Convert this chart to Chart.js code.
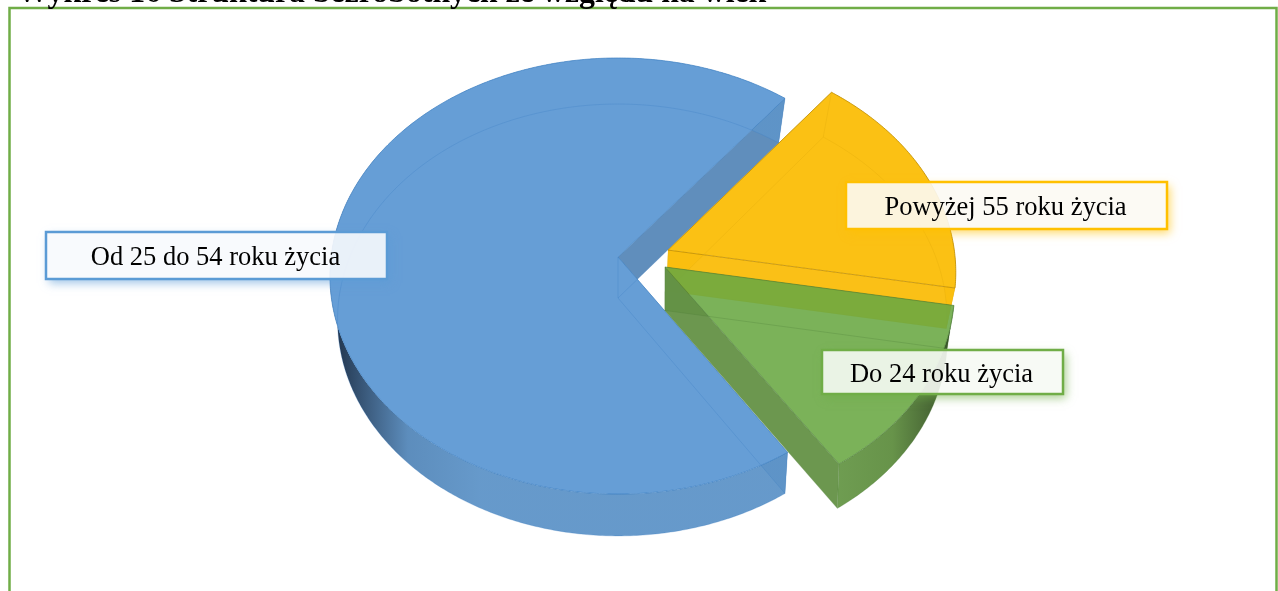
<!DOCTYPE html>
<html lang="pl">
<head>
<meta charset="utf-8">
<title>Wykres 16</title>
<script src="https://cdn.jsdelivr.net/npm/chart.js@4/dist/chart.umd.min.js"></script>
<style>
  html, body { margin: 0; padding: 0; background: #fff; overflow: hidden; }
  canvas { display: block; }
</style>
</head>
<body>
<canvas id="pieChart" width="1278" height="591"></canvas>
<script>
// data (share of the pie, %)
const chartTitle = 'Wykres 16 Struktura bezrobotnych ze względu na wiek';
const ageLabels = ['Do 24 roku życia', 'Od 25 do 54 roku życia', 'Powyżej 55 roku życia'];
const ageValues = [13, 69.9, 17.1];

// look of each slice, same order as the labels
const faceColors = ['rgba(105,167,66,.88)', 'rgba(85,148,210,.9)', 'rgba(251,191,12,.97)'];
const wallColors = ['rgba(100,145,70,.95)', 'rgba(68,122,176,.85)', 'rgba(250,190,15,.97)'];
const edgeColors = ['rgba(70,120,50,', 'rgba(50,120,190,', 'rgba(190,140,0,'];
const hiddenEdge = ['.25)', '.25)', '.14)'];
const shownEdge = ['.6)', '.6)', '.8)'];
const wallShade = [
  { from: 835, to: 950, stops: ['rgba(108,155,78,.98)', 'rgba(100,145,70,.98)', 'rgba(55,80,40,.98)'] },
  { from: 336, to: 480, stops: ['rgba(30,50,75,.98)', 'rgba(84,135,185,.95)', 'rgba(94,148,200,.95)'] },
  null
];
// where the apex of each slice ends up, in pie radii from the middle (x right, y away from viewer)
const apexShift = [[.163, -.046], [0, 0], [.175, .032]];
const bottomShift = [[.167, -.058], [0, 0], [.175, .032]];
const drawOrder = [1, 2, 0];
const labelBoxes = [[822, 350, 241, 44], [46, 232, 341, 47], [846, 182, 321, 47]];
const labelBorders = ['#70ad47', '#5b9bd5', '#ffc000'];
const labelFills = ['rgba(246,249,244,.9)', 'rgba(247,249,253,.9)', 'rgba(252,250,243,.9)'];

// fitted perspective of the top face and the bottom face of the pie
const top3d = { x: 618, y: 257, rx: 287, ry: 216.4, s: .0872 };
const bot3d = { x: 618, y: 298, rx: 279, ry: 213.7, s: .1018 };

function project(u, v, p) {
  const w = 1 + p.s * v;
  return [p.x + p.rx * u / w, p.y - p.ry * v / w];
}

// points of the rim of one slice, canvas angles from the arc element
function rimPoints(el, shift, p) {
  const pts = [];
  const n = Math.ceil((el.endAngle - el.startAngle) / 0.01);
  for (let i = 0; i <= n; i++) {
    const a = el.startAngle + (el.endAngle - el.startAngle) * i / n;
    pts.push(project(shift[0] + Math.cos(a), shift[1] - Math.sin(a), p));
  }
  return pts;
}

function tracePoints(ctx, pts) {
  pts.forEach((pt, i) => i ? ctx.lineTo(pt[0], pt[1]) : ctx.moveTo(pt[0], pt[1]));
}

function drawSlice(ctx, el, i) {
  const shift = apexShift[i];
  const topApex = project(shift[0], shift[1], top3d);
  const botApex = project(bottomShift[i][0], bottomShift[i][1], bot3d);
  const topRim = rimPoints(el, shift, top3d);
  const botRim = rimPoints(el, bottomShift[i], bot3d);
  const topFace = [topApex, ...topRim];
  const botFace = [botApex, ...botRim];

  // walls, only the part that sticks out of the top face
  ctx.save();
  ctx.beginPath();
  ctx.rect(0, 0, 1278, 591);
  tracePoints(ctx, topFace);
  ctx.closePath();
  ctx.clip('evenodd');

  ctx.fillStyle = wallColors[i];
  [[topRim[0], botRim[0]], [topRim[topRim.length - 1], botRim[botRim.length - 1]]].forEach(pair => {
    ctx.beginPath();
    tracePoints(ctx, [topApex, pair[0], pair[1], botApex]);
    ctx.closePath();
    ctx.fill();
  });

  let outerFill = wallColors[i];
  if (wallShade[i]) {
    const g = ctx.createLinearGradient(wallShade[i].from, 0, wallShade[i].to, 0);
    wallShade[i].stops.forEach((c, k) => g.addColorStop(k / (wallShade[i].stops.length - 1), c));
    outerFill = g;
  }
  ctx.fillStyle = outerFill;
  ctx.beginPath();
  tracePoints(ctx, [...topRim, ...botRim.slice().reverse()]);
  ctx.closePath();
  ctx.fill();
  ctx.restore();

  // top face
  ctx.fillStyle = faceColors[i];
  ctx.beginPath();
  tracePoints(ctx, topFace);
  ctx.closePath();
  ctx.fill();

  // hidden edges show faintly through the slice
  ctx.lineWidth = 1;
  ctx.strokeStyle = edgeColors[i] + hiddenEdge[i];
  ctx.beginPath();
  tracePoints(ctx, botFace);
  ctx.closePath();
  tracePoints(ctx, [topRim[0], botRim[0]]);
  tracePoints(ctx, [topRim[topRim.length - 1], botRim[botRim.length - 1]]);
  tracePoints(ctx, [topApex, botApex]);
  ctx.stroke();

  ctx.strokeStyle = edgeColors[i] + shownEdge[i];
  ctx.beginPath();
  tracePoints(ctx, topFace);
  ctx.closePath();
  ctx.stroke();
}

function drawLabel(ctx, i) {
  const [x, y, w, h] = labelBoxes[i];
  // soft shadow outside the box only
  ctx.save();
  ctx.beginPath();
  ctx.rect(0, 0, 1278, 591);
  ctx.rect(x, y, w, h);
  ctx.clip('evenodd');
  ctx.shadowColor = labelBorders[i] + '99';
  ctx.shadowBlur = 9;
  ctx.shadowOffsetX = 3;
  ctx.shadowOffsetY = 4;
  ctx.fillStyle = '#fff';
  ctx.fillRect(x, y, w, h);
  ctx.restore();

  ctx.fillStyle = labelFills[i];
  ctx.fillRect(x, y, w, h);
  ctx.strokeStyle = labelBorders[i];
  ctx.lineWidth = 2.5;
  ctx.strokeRect(x, y, w, h);

  ctx.fillStyle = '#000';
  ctx.font = '26.5px "Liberation Serif"';
  ctx.textAlign = 'center';
  ctx.textBaseline = 'middle';
  ctx.fillText(ageLabels[i], x + w / 2 - 1, y + h / 2 + 3);
}

const pie3d = {
  id: 'pie3d',
  beforeDatasetsDraw(chart) {
    const ctx = chart.ctx;
    const arcs = chart.getDatasetMeta(0).data;
    ctx.save();
    drawOrder.forEach(i => drawSlice(ctx, arcs[i], i));
    drawOrder.forEach(i => drawLabel(ctx, i));
    ctx.restore();
    return false; // slices are already drawn above
  },
  beforeDraw(chart) {
    const ctx = chart.ctx;
    ctx.save();
    ctx.fillStyle = '#fff';
    ctx.fillRect(0, 0, 1278, 591);
    // frame of the figure, open at the bottom of the crop
    ctx.strokeStyle = '#70ad47';
    ctx.lineWidth = 2.5;
    ctx.beginPath();
    ctx.moveTo(9.5, 600);
    ctx.lineTo(9.5, 8);
    ctx.lineTo(1276.5, 8);
    ctx.lineTo(1276.5, 600);
    ctx.stroke();
    ctx.fillStyle = '#000';
    ctx.font = 'bold 31.8px "Liberation Serif"';
    ctx.textAlign = 'left';
    ctx.textBaseline = 'alphabetic';
    ctx.fillText(chartTitle, 17, 2);
    ctx.restore();
  }
};

new Chart(document.getElementById('pieChart'), {
  type: 'pie',
  data: {
    labels: ageLabels,
    datasets: [{ data: ageValues, backgroundColor: faceColors }]
  },
  options: {
    responsive: false,
    animation: false,
    rotation: 100,
    plugins: { legend: { display: false }, tooltip: { enabled: false } }
  },
  plugins: [pie3d]
});
</script>
</body>
</html>
